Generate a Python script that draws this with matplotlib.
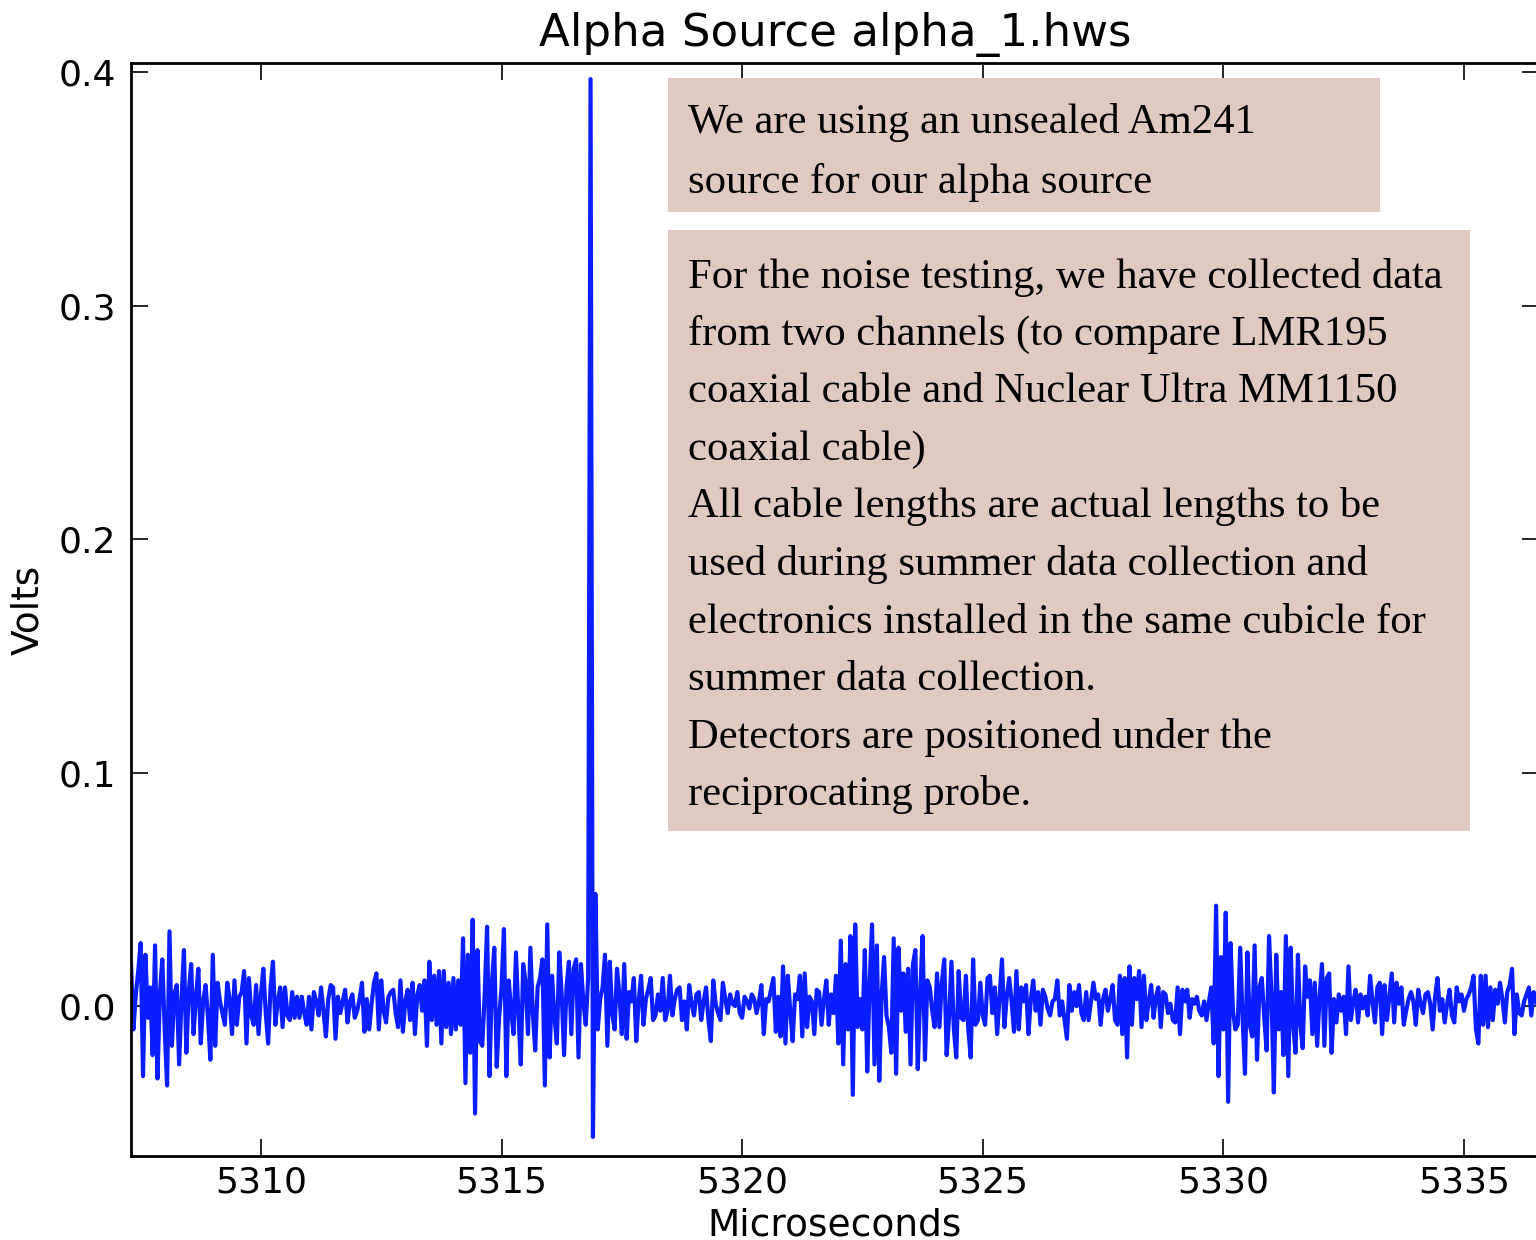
import matplotlib
matplotlib.use('Agg')
import matplotlib.pyplot as plt
import numpy as np
from matplotlib.patches import Rectangle

# sampled trace (mV), uniform sampling from T0 with step DT (microseconds)
T0 = 5307.30
DT = 0.05
signal_mv = [
    18, -10, 5, 15, 27, -30, 22, -5, 8, -21,
    26, -31, 5, 20, -10, -34, 32, -17, 5, 9,
    -25, 3, 24, -20, 6, 18, -12, 4, 16, -16,
    2, 9, -5, -23, 22, -17, 10, 2, -3, -8,
    10, 3, -12, 11, -8, 4, 6, 15, -16, 12,
    -4, -8, 9, -12, 5, 16, -3, -16, 8, 19,
    -8, 2, 8, -9, 8, -4, -6, 6, -5, 4,
    -5, 4, -3, -8, 4,
    -10, 6, 2, -4, 8, -2, -13, 3, 9, 8,
    -14, 4, -3, 2, 7, -7, 2, 5, -5, -2,
    3, 10, -11, 3, -10, 1, 10, 14, -10, 11,
    -2, -7, 4, 6, 7, -3, -9, 11, -11, 2,
    7, -6, 10, -12, 5, 9, -2, 11, -17, 19,
    -6, 13, -8, 15, -16, 15, -9, 10, -12, 12,
    -10, 11, -8, 29, -33, 22, -20, 37, -46, 24,
    -15,
    -17, 5, 34, -30, 10, 25, -26, -5, 8, 33,
    -30, 11, -2, -12, 23, -3, -25, 18, 10, -12,
    25, -3, -19, 8, 12, 20, -34, 35, -22, 13,
    -5, -16, 23, 5, -21, 8, 19, -12, 16, 20,
    -22, 18, 2, -8, 12, 397, -56, 48, -10, 3,
    8, 22, -17, 19, -3, -10, 16, 5, -12, 18,
    -14, 6, 2, 12, -15, 2, 13, -8, 3, 7,
    12, -6, -4, 5, -2, 12, -6, -2, 13, -4,
    3, 7, 8, -6, 2, -10, 9, 1, -4, 5,
    6, -6, 2, 8, -6, -15, 11, 1, -3, -6,
    10, 3, -3, 5, 1, 0, 6, -3, -5, 4,
    2, -1, 5, 3, -3, 2, 9, -12, 3, 2,
    7, 12, -11, 4, -13, 17, -16, 13, -2, -15,
    5, 3, 13, -13, 14, -9, 4, 2, -12, 7,
    6,
    -8, 3, 11, -8, 5, -3, 13, -16, 28, -25,
    18, -10, 30, -38, 35, -9, 3, -10, 24, -28,
    10, 35, -25, 26, -32, 5, 21, -4, -9, -20,
    29, -29, 25, -2, 14, -11, 16, -25, 18, 24,
    -27, 5, 30, -23, 11, 8, -2, -9, 14, -9,
    10, 20, -21, -5, 19, -10, -22, 15, -5, -6,
    13, -10, -22, 20, -8, -6, 10, -4, -8, 12,
    13, -3, 8, -12, 4, 20, -9, 4, 12, 2,
    -11, 15, -10, 8, 2, 9, -12, 3, 11, -2,
    6, -8, 7, 4, -1, -4, 2, 3, 11, -4,
    2, -6, -14, 9, -2, 6, 0, 9, -3, -6,
    6, -6, 2, 10, 3, 5, -8, 3, 7, -2,
    3, 9, -6, -8, 13, -12, 12, -22, 17, -8,
    12, 3, 15, -9, 13, -6, 2, 9, -5, 4,
    8,
    -9, 6, 5, -3, 1, -6, -7, 8, -12, 7,
    2, 7, -5, 3, 1, 4, -2, -4, 2, -6,
    2, 8, -16, 43, -30, 21, -10, 40, -41, 27,
    -2, -10, -8, 25, -5, -29, 23, -8, -13, 26,
    -23, 8, 12, -5, -19, 30, 5, -37, 22, -10,
    6, -21, 30, -30, 25, -8, -20, 22, -8, -18,
    17, 4, 11, -12, 10, -17, 4, 18, -17, 12,
    14, -20, 3, -7, 5, -2, 4, -12, 17, -6,
    2, 7, -7, 5, -1, 4, -4, 13, 2, -7,
    8, 10, -12, 9, -6, 4, 14, -7, 10, 1,
    8, -8, -2, 3, 6, 2, -8, 7, 1, -3,
    5, 6, 1, -10, 4, 12, -2, 3, -7, 1,
    7, -4, -7, 8, 2, 5, -2, 3, 5, 8,
    13, -10, -16, 13, -8, 13, -9, 8, -6, 7,
    1, 10, 3, -7, 6, 9, 16, -12, 5, -3,
    -4, 2, 5, 8, -4, 6, 3, -2, 4, 2,
]

x_ticks = [5310, 5315, 5320, 5325, 5330, 5335]
y_ticks = [0.0, 0.1, 0.2, 0.3, 0.4]
title = 'Alpha Source alpha_1.hws'
x_label = 'Microseconds'
y_label = 'Volts'

note_1 = ['We are using an unsealed Am241',
          'source for our alpha source']
note_2 = ['For the noise testing, we have collected data',
          'from two channels (to compare LMR195',
          'coaxial cable and Nuclear Ultra MM1150',
          'coaxial cable)',
          'All cable lengths are actual lengths to be',
          'used during summer data collection and',
          'electronics installed in the same cubicle for',
          'summer data collection.',
          'Detectors are positioned under the',
          'reciprocating probe.']

W, H = 1536, 1240
fig = plt.figure(figsize=(W / 100, H / 100), dpi=100)
ax = fig.add_axes([131 / W, 1 - 1156 / H, 1408 / W, 1093 / H])

t = T0 + DT * np.arange(len(signal_mv))
ax.plot(t, np.array(signal_mv) / 1000.0, color='#0a1eff', lw=3.0)

ax.set_xlim(5307.30, 5336.56)
ax.set_ylim(-0.0642, 0.4039)
ax.set_xticks(x_ticks)
ax.set_yticks(y_ticks)
ax.set_yticklabels(['%.1f' % v for v in y_ticks])
ax.tick_params(direction='in', length=12, width=1.2, top=True, right=True,
               labelsize=26, colors='black')
ax.tick_params(axis='x', pad=7)
ax.tick_params(axis='y', pad=11)
for s in ax.spines.values():
    s.set_linewidth(2.0)

ax.set_title(title, fontsize=32.5, pad=12)
ax.set_xlabel(x_label, fontsize=27)
ax.set_ylabel(y_label, fontsize=27)
ax.xaxis.set_label_coords(0.5, -(1207 - 1156) / 1093)
ax.yaxis.set_label_coords(-(131 - 46) / 1408, 0.5)

box_color = '#dfc9c1'


def add_note(x0, y0, x1, y1, lines, baselines):
    fig.add_artist(Rectangle((x0 / W, 1 - y1 / H), (x1 - x0) / W, (y1 - y0) / H,
                             transform=fig.transFigure, facecolor=box_color,
                             edgecolor='none', zorder=3))
    for line, yb in zip(lines, baselines):
        fig.text(688 / W, 1 - yb / H, line, fontsize=30.7,
                 family='Liberation Serif', va='baseline', ha='left',
                 color='black', zorder=4)


add_note(668, 78, 1380, 212, note_1, [133, 193])
add_note(668, 230, 1470, 831, note_2,
         [288, 345, 402, 460, 517, 575, 633, 690, 748, 805])

fig.savefig('out.png', dpi=100)
